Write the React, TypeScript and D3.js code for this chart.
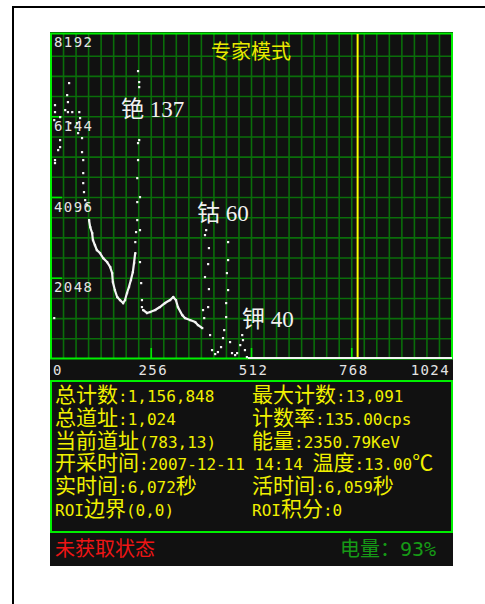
import * as d3 from "d3";

// spectrum: [channel, counts]
const leftCluster: [number, number][] = [
  [8, 1040], [10, 6441], [8, 6061], [10, 6264], [18, 5300], [10, 5047], [10, 4971],
  [23, 6137], [23, 5554], [23, 5376], [36, 6315], [41, 6695], [43, 6518], [43, 6264],
  [46, 7000], [49, 5985], [54, 6264], [66, 5985], [69, 5731], [72, 6264], [74, 6112],
  [79, 5605], [79, 5249], [82, 5047], [82, 4717], [82, 4463], [84, 4235], [87, 4032],
  [92, 3905],
];

const descendTrace: [number, number][] = [
  [97, 3525], [100, 3348], [105, 3195], [107, 3018], [112, 2891], [117, 2764],
  [125, 2688], [133, 2561], [143, 2460], [151, 2333], [156, 2181], [158, 1953],
  [163, 1750], [169, 1572], [176, 1496], [184, 1420], [189, 1496], [194, 1674],
  [199, 1826], [204, 2004], [209, 2206], [212, 2435], [215, 2688],
];

const csPeak: [number, number][] = [
  [215, 2967], [217, 3221], [220, 3525], [220, 3982], [220, 4590], [222, 5047],
  [222, 5478], [222, 7304], [225, 7025], [225, 6898], [225, 5554], [227, 4108],
  [227, 3271], [227, 2460], [230, 1927], [232, 1496], [232, 1319],
];

const comptonTrace: [number, number][] = [
  [235, 1243], [245, 1167], [253, 1192], [266, 1243], [278, 1319], [291, 1420],
  [304, 1496], [312, 1572], [319, 1496], [324, 1319], [335, 1116], [342, 1040],
  [355, 989], [368, 938], [375, 862], [386, 786],
];

const coPeaks: [number, number][] = [
  [388, 1243], [391, 1040], [393, 2080], [396, 3271], [393, 3145], [401, 2409],
  [401, 1319], [403, 2815], [403, 1775], [406, 609], [411, 228], [419, 127],
  [426, 178], [434, 304], [439, 533], [442, 735], [447, 1065], [447, 1420],
  [449, 2181], [452, 1750], [452, 2511], [452, 2967], [457, 431], [462, 152],
  [470, 101], [475, 152], [483, 355], [488, 609], [490, 482], [495, 228], [500, 51],
];

const zeroTail: [number, number][] = [[503, 0], [1024, 0]];

const yTicks = [8192, 6144, 4096, 2048];
const xTicks = [0, 256, 512, 768, 1024];
const cursorChannel = 783;

const annotations = [
  { label: "铯 137", ch: 179, cnt: 6137 },
  { label: "钴 60", ch: 373, cnt: 3500 },
  { label: "钾 40", ch: 488, cnt: 812 },
];

const infoLeft = [
  "总计数:1,156,848",
  "总道址:1,024",
  "当前道址(783,13)",
  "开采时间:2007-12-11 14:14 温度:13.00℃",
  "实时间:6,072秒",
  "ROI边界(0,0)",
];
const infoRight = [
  "最大计数:13,091",
  "计数率:135.00cps",
  "能量:2350.79KeV",
  "",
  "活时间:6,059秒",
  "ROI积分:0",
];

const title = "专家模式";
const statusText = "未获取状态";
const batteryText = "电量：93%";

const x = d3.scaleLinear().domain([0, 1024]).range([51, 452]);
const y = d3.scaleLinear().domain([0, 8192]).range([359, 36]);

const CJK = /[\u2103\u3000-\u9fff\uff00-\uffef]/;
const mono = "'DejaVu Sans Mono', monospace";
const cjk = "'Noto Sans CJK SC', sans-serif";

// split a string into CJK / latin runs so each gets its own font
const runs = (s: string) => {
  const out: { t: string; c: boolean }[] = [];
  for (const ch of s) {
    const c = CJK.test(ch);
    if (out.length && out[out.length - 1].c === c) out[out.length - 1].t += ch;
    else out.push({ t: ch, c });
  }
  return out;
};

const MixedText = ({
  s, px, py, fill, cjkSize, monoSize,
}: { s: string; px: number; py: number; fill: string; cjkSize: number; monoSize: number }) => (
  <text x={px} y={py} fill={fill} style={{ whiteSpace: "pre" }}>
    {runs(s).map((r, i) => (
      <tspan key={i} fontFamily={r.c ? cjk : mono} fontSize={r.c ? cjkSize : monoSize}>
        {r.t}
      </tspan>
    ))}
  </text>
);

const Dots = ({ data }: { data: [number, number][] }) => (
  <g fill="#f4f4f4">
    {data.map(([c, v], i) => (
      <rect key={i} x={x(c) - 1} y={y(v) - 1} width={2.2} height={2.2} />
    ))}
  </g>
);

const line = d3
  .line<[number, number]>()
  .x((d) => x(d[0]))
  .y((d) => y(d[1]));

export default function App() {
  const gridX = d3.range(32, 1024, 32);
  const gridY = d3.range(512, 8192, 512);
  const lineY = (i: number) => 402 + i * 22.8;

  return (
    <svg
      width={485}
      height={604}
      style={{ position: "absolute", left: 0, top: 0, background: "#fff" }}
    >
      {/* outer frame */}
      <line x1={12} x2={485} y1={7} y2={7} stroke="#000" strokeWidth={2} />
      <line x1={13} x2={13} y1={6} y2={604} stroke="#000" strokeWidth={2} />

      {/* device screen */}
      <rect x={50} y={32} width={403} height={534} fill="#111" />

      {/* grid */}
      <g stroke="#0a6e0a" strokeWidth={1.6}>
        {gridX.map((c) => (
          <line key={"gx" + c} x1={x(c)} x2={x(c)} y1={34} y2={359} />
        ))}
        {gridY.map((v) => (
          <line key={"gy" + v} x1={51} x2={452} y1={y(v)} y2={y(v)} />
        ))}
      </g>

      {/* bright ticks */}
      <g stroke="#00e800" strokeWidth={1.6}>
        {yTicks.slice(1).map((v) => (
          <line key={"yt" + v} x1={51} x2={62} y1={y(v)} y2={y(v)} />
        ))}
        {xTicks.slice(1, -1).map((c) => (
          <line key={"xt" + c} x1={x(c)} x2={x(c)} y1={348} y2={359} />
        ))}
      </g>

      {/* plot border */}
      <rect x={51} y={33.5} width={401} height={325} fill="none" stroke="#00f000" strokeWidth={2} />

      {/* cursor */}
      <line x1={x(cursorChannel)} x2={x(cursorChannel)} y1={34} y2={358} stroke="#ffff00" strokeWidth={2} />

      {/* spectrum */}
      <g fill="none" stroke="#f4f4f4" strokeWidth={2.2}>
        <path d={line(descendTrace) ?? ""} />
        <path d={line(comptonTrace) ?? ""} />
        <path d={line(zeroTail) ?? ""} transform="translate(0,-1)" />
      </g>
      <Dots data={leftCluster} />
      <Dots data={descendTrace} />
      <Dots data={csPeak} />
      <Dots data={comptonTrace} />
      <Dots data={coPeaks} />

      {/* title */}
      <text x={251} y={59} textAnchor="middle" fill="#eaea00" fontFamily={cjk} fontSize={20}>
        {title}
      </text>

      {/* y labels */}
      <g fill="#e4e4e4" fontFamily={mono} fontSize={14} letterSpacing={1.4}>
        {yTicks.map((v) => (
          <text key={"yl" + v} x={54} y={v === 8192 ? 47 : y(v) + 14}>
            {v}
          </text>
        ))}
      </g>

      {/* x labels */}
      <g fill="#e4e4e4" fontFamily={mono} fontSize={14} letterSpacing={1.4}>
        {xTicks.map((c, i) => (
          <text
            key={"xl" + c}
            x={i === 0 ? 53 : i === xTicks.length - 1 ? 450 : x(c) + 2}
            y={375}
            textAnchor={i === 0 ? "start" : i === xTicks.length - 1 ? "end" : "middle"}
          >
            {c}
          </text>
        ))}
      </g>

      {/* peak annotations */}
      <g fill="#f2f2f2" fontSize={23}>
        {annotations.map((a) => (
          <text key={a.label} x={x(a.ch)} y={y(a.cnt)} fontFamily="'Liberation Serif', 'Noto Sans CJK SC', serif">
            {a.label}
          </text>
        ))}
      </g>

      {/* info box */}
      <rect x={51} y={381} width={401} height={151} fill="none" stroke="#00f000" strokeWidth={2} />
      {infoLeft.map((s, i) => (
        <MixedText key={"l" + i} s={s} px={55} py={lineY(i)} fill="#f0f000" cjkSize={21} monoSize={16} />
      ))}
      {infoRight.map((s, i) =>
        s ? (
          <MixedText key={"r" + i} s={s} px={252} py={lineY(i)} fill="#f0f000" cjkSize={21} monoSize={16} />
        ) : null
      )}

      {/* status bar */}
      <MixedText s={statusText} px={55} py={556} fill="#ee1515" cjkSize={20} monoSize={20} />
      <MixedText s={batteryText} px={340} py={556} fill="#169a16" cjkSize={20} monoSize={20} />
    </svg>
  );
}
